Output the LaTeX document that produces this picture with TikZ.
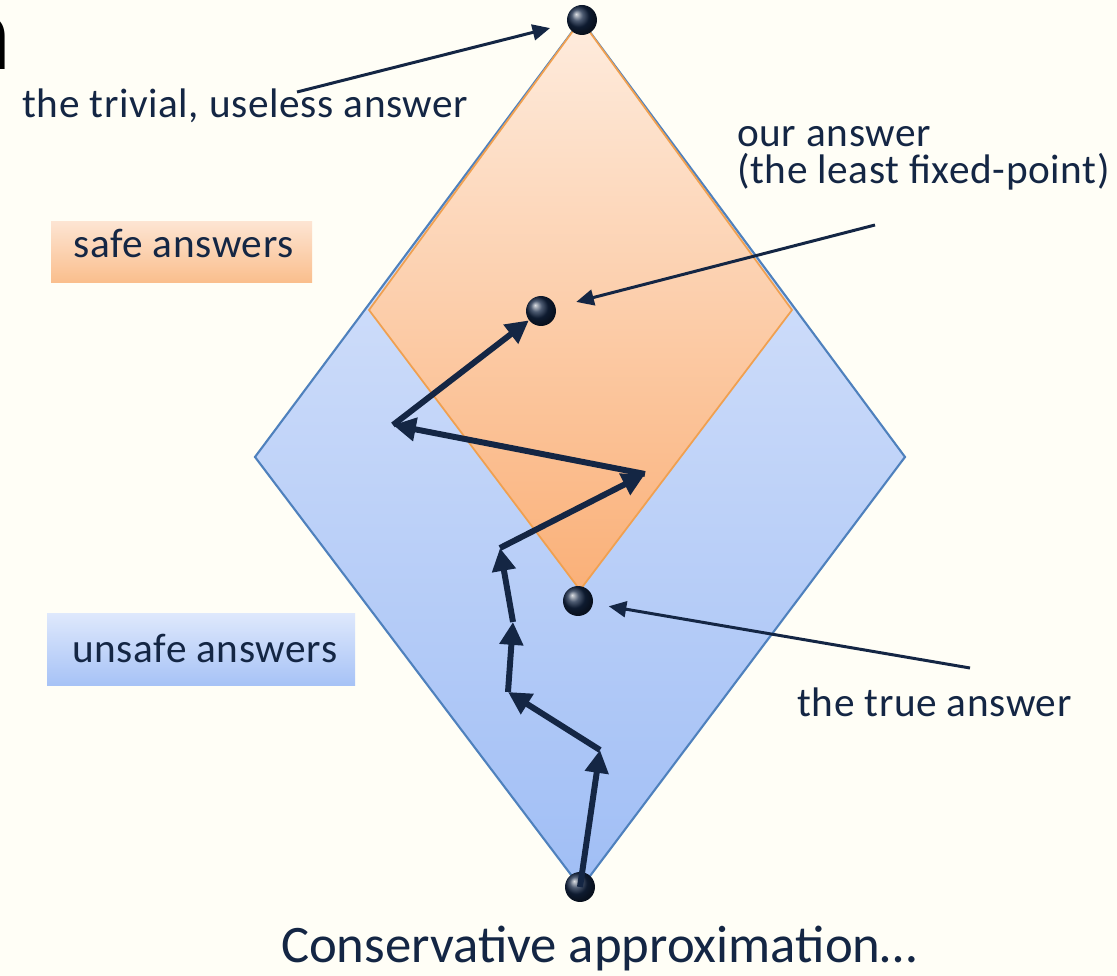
\documentclass[tikz,border=0pt]{standalone}
\usepackage{fontspec}
\setmainfont{Carlito}
\newfontfamily\lblfont{Carlito}[LetterSpace=1.5]
\usepackage{tikz}
\usetikzlibrary{arrows.meta,positioning,calc,shadings}
\definecolor{bgcol}{RGB}{255,254,246}
\definecolor{inkcol}{RGB}{20,38,68}
\definecolor{blueedge}{RGB}{79,129,189}
\definecolor{orangeedge}{RGB}{240,160,80}
\tikzset{
  dot/.style={circle,inner sep=0pt,minimum size=0.6cm,shading=ball,ball color=inkcol},
  stepline/.style={line width=3.4pt,draw=inkcol,-{Triangle[length=13pt,width=13pt]}},
  pointer/.style={line width=1.7pt,draw=inkcol,-{Triangle[length=10pt,width=9pt]}},
  lbl/.style={text=inkcol,inner sep=0pt,font=\lblfont\fontsize{23.5}{21.5}\selectfont}
}

\begin{document}
\begin{tikzpicture}[x=0.02cm,y=-0.02cm]
  \fill[bgcol] (0,0) rectangle (1117,976); % 背景
  \useasboundingbox (0,0) rectangle (1117,976);
  \node[anchor=base east,inner sep=0pt,font=\fontsize{62}{62}\selectfont] (head) at (12,70) {n}; % 切れた見出しの一部
  \shade[top color={rgb,255:red,226;green,234;blue,252},bottom color={rgb,255:red,160;green,190;blue,245},draw=blueedge,line width=1.2pt]
    (581,20) -- (905,457) -- (581,888) -- (255,457) -- cycle; % 外側の青いひし形
  \shade[top color={rgb,255:red,254;green,236;blue,222},bottom color={rgb,255:red,250;green,176;blue,120},draw=orangeedge,line width=1pt]
    (581,20) -- (792,310) -- (580,590) -- (369,310) -- cycle; % 内側のオレンジのひし形
  \shade[top color={rgb,255:red,253;green,228;blue,210},bottom color={rgb,255:red,250;green,190;blue,140}]
    (51,222) rectangle (312,283); % safe の帯
  \shade[top color={rgb,255:red,222;green,232;blue,252},bottom color={rgb,255:red,166;green,194;blue,246}]
    (47,614) rectangle (355,686); % unsafe の帯
  \node[lbl,anchor=base west] (safe) at (73,258) {safe answers};
  \node[lbl,anchor=base west] (unsafe) at (72,663) {unsafe answers};
  \node[lbl,anchor=base west] (trivial) at (22,118) {the trivial, useless answer};
  \node[lbl,anchor=base west,align=left] (ourtxt) at (737,184) {our answer\\(the least fixed-point)};
  \node[lbl,anchor=base west] (truetxt) at (797,717) {the true answer};
  \node[text=inkcol,inner sep=0pt,anchor=base,font=\fontsize{30}{30}\selectfont] (title) at (599,962) {Conservative approximation…};
  \node[dot] (top) at (582,20) {}; % 最大元
  \node[dot] (ours) at (541,311) {}; % 最小不動点
  \node[dot] (truth) at (578,601) {}; % 真の答え
  \node[dot] (bot) at (580,887) {}; % 最小元
  \coordinate (s1) at (600,750);
  \coordinate (s2) at (508,692);
  \coordinate (s3) at (513,622);
  \coordinate (s4) at (500,548);
  \coordinate (s5) at (645,474);
  \coordinate (s6) at (393,425);
  \draw[stepline] (bot.center) -- (s1);
  \draw[stepline] (s1) -- (s2);
  \draw[stepline] (s2) -- (s3);
  \draw[stepline] (s3) -- (s4);
  \draw[stepline] (s4) -- (s5);
  \draw[stepline] (s5) -- (s6);
  \draw[stepline] (s6) -- (ours);
  \coordinate (p1) at (297,92);
  \coordinate (p2) at (875,225);
  \coordinate (p3) at (970,668);
  \draw[pointer,shorten >=10pt] (p1) -- (top); % trivial への矢印
  \draw[pointer,shorten >=12pt] (p2) -- (ours); % our answer への矢印
  \draw[pointer,shorten >=9pt] (p3) -- (truth); % true answer への矢印
\end{tikzpicture}
\end{document}
